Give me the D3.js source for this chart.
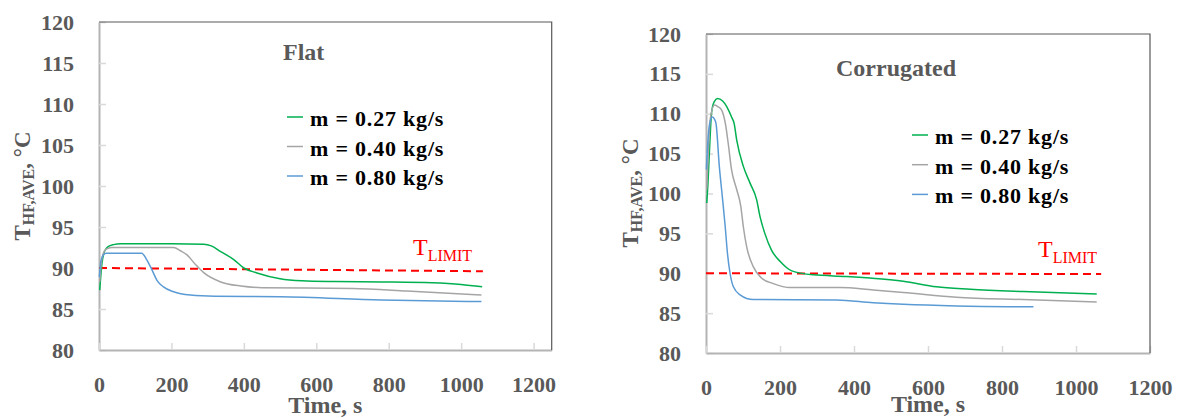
<!DOCTYPE html>
<meta charset="utf-8">
<script src="https://d3js.org/d3.v7.min.js"></script>
<body style="margin:0; background:#fff">
<div id="chart"></div>
<script>

// ---- data: [time s, temperature °C] ----
var flat027 = [[2,87.3],[8,90.5],[15,92.0],[25,92.6],[40,92.85],[60,92.95],[200,92.95],[289,92.9],[310,92.7],[336,92.0],[373,91.0],[400,90.0],[436,89.4],[500,88.7],[560,88.45],[650,88.35],[780,88.3],[920,88.2],[1000,88.0],[1058,87.7]];
var flat040 = [[2,88.3],[6,90.5],[12,91.8],[20,92.3],[35,92.5],[206,92.5],[225,92.1],[243,91.6],[267,90.4],[290,89.4],[336,88.3],[392,87.8],[450,87.6],[700,87.5],[850,87.2],[1056,86.7]];
var flat080 = [[1,88.9],[5,90.8],[12,91.6],[20,91.8],[118,91.8],[132,91.0],[146,89.8],[160,88.5],[178,87.7],[206,87.1],[252,86.7],[320,86.55],[500,86.5],[780,86.1],[1056,85.9]];
var flatLimit = [[0,90.0],[1060,89.6]];

var corr027 = [[2,98.8],[5,101],[10,106],[15,110.1],[22,111.5],[31,111.9],[45,111.6],[56,110.9],[70,109.5],[76,108.8],[83,106.7],[101,103.4],[119,101.3],[137,99.2],[146,97.1],[159,95.0],[177,92.9],[200,91.5],[232,90.3],[290,89.8],[380,89.6],[443,89.4],[533,89.0],[623,88.3],[714,88.0],[857,87.7],[1056,87.4]];
var corr040 = [[2,100.5],[6,105],[12,109.5],[23,111.1],[32,110.9],[42,110.5],[53,108.6],[60,106.3],[69,103.0],[83,100.5],[94,98.4],[101,95.8],[110,93.3],[128,90.8],[150,89.4],[182,88.7],[227,88.2],[362,88.2],[452,87.9],[533,87.6],[677,87.0],[857,86.7],[1056,86.4]];
var corr080 = [[1,103],[5,106.5],[10,108.8],[17,109.6],[22,109.4],[27,108.8],[36,103.4],[45,99.2],[52,95.8],[58,92.5],[65,90.0],[74,88.3],[92,87.3],[128,86.7],[353,86.65],[452,86.3],[533,86.1],[677,85.9],[885,85.8]];
var corrLimit = [[0,90.0],[1068,89.9]];

var seriesNames = ["m = 0.27 kg/s", "m = 0.40 kg/s", "m = 0.80 kg/s"];
var xTicks = [0, 200, 400, 600, 800, 1000, 1200];
var yTicks = [80, 85, 90, 95, 100, 105, 110, 115, 120];

var colors = ["#00b050", "#a5a5a5", "#5b9bd5"];
var serif = "'Liberation Serif', 'Times New Roman', serif";

var svg = d3.select("#chart").append("svg")
    .attr("width", 1179)
    .attr("height", 418);

var panels = [
    { title: "Flat", series: [flat027, flat040, flat080], limit: flatLimit, xMax: 1250,
      left: 99, right: 551.7, top: 22, bottom: 350,
      titleX: 283, titleY: 60, legX: 287, legY: 117, legStep: 29.5,
      limX: 413, limY: 255, yTitleX: 30, yTitleY: 186, xTitleY: 413 },
    { title: "Corrugated", series: [corr027, corr040, corr080], limit: corrLimit, xMax: 1200,
      left: 706, right: 1150, top: 34, bottom: 353,
      titleX: 836, titleY: 76, legX: 912, legY: 135, legStep: 29.7,
      limX: 1038, limY: 257, yTitleX: 638, yTitleY: 193, xTitleY: 412 }
];

panels.forEach(drawPanel);

function drawPanel(p) {
    var x = d3.scaleLinear().domain([0, p.xMax]).range([p.left, p.right]);
    var y = d3.scaleLinear().domain([80, 120]).range([p.bottom, p.top]);

    // axes (ticks point inward)
    var ya = svg.append("g")
        .attr("transform", "translate(" + p.left + ",0)")
        .call(d3.axisLeft(y).tickValues(yTicks).tickFormat(d3.format("d"))
            .tickSizeInner(-7).tickSizeOuter(0).tickPadding(25));
    var xa = svg.append("g")
        .attr("transform", "translate(0," + p.bottom + ")")
        .call(d3.axisBottom(x).tickValues(xTicks).tickFormat(d3.format("d"))
            .tickSizeInner(-7).tickSizeOuter(0).tickPadding(26));

    [ya, xa].forEach(function (a) {
        a.select(".domain").attr("stroke", "#b4b4b4").attr("stroke-width", 2);
        a.selectAll(".tick line").attr("stroke", "#d9d9d9").attr("stroke-width", 1.5);
        a.selectAll(".tick text")
            .style("font-family", serif)
            .style("font-weight", "bold")
            .style("font-size", "22px")
            .attr("fill", "#595959");
    });

    // top and right frame
    svg.append("path")
        .attr("d", "M" + p.left + "," + p.top + "H" + p.right + "V" + p.bottom)
        .attr("fill", "none")
        .attr("stroke", "#595959")
        .attr("stroke-width", 1.2);

    var line = d3.line()
        .x(function (d) { return x(d[0]); })
        .y(function (d) { return y(d[1]); })
        .curve(d3.curveMonotoneX);

    // limit line
    svg.append("path")
        .attr("d", line(p.limit))
        .attr("fill", "none")
        .attr("stroke", "#ff0000")
        .attr("stroke-width", 2)
        .attr("stroke-dasharray", "8,5");

    svg.selectAll(null)
        .data(p.series)
        .enter()
        .append("path")
        .attr("d", function (d) { return line(d); })
        .attr("fill", "none")
        .attr("stroke", function (d, i) { return colors[i]; })
        .attr("stroke-width", 1.5);

    // legend
    seriesNames.forEach(function (name, i) {
        var ly = p.legY + i * p.legStep;
        svg.append("line")
            .attr("x1", p.legX).attr("x2", p.legX + 16)
            .attr("y1", ly).attr("y2", ly)
            .attr("stroke", colors[i])
            .attr("stroke-width", 1.5);
        svg.append("text")
            .attr("x", p.legX + 23)
            .attr("y", ly + 9)
            .text(name)
            .style("font-family", serif)
            .style("font-weight", "bold")
            .style("font-size", "22px")
            .style("letter-spacing", "0.8px")
            .attr("fill", "#000");
    });

    // panel title
    svg.append("text")
        .attr("x", p.titleX)
        .attr("y", p.titleY)
        .text(p.title)
        .style("font-family", serif)
        .style("font-weight", "bold")
        .style("font-size", "24px")
        .attr("fill", "#595959");

    // T LIMIT label
    var lim = svg.append("text")
        .attr("x", p.limX)
        .attr("y", p.limY)
        .style("font-family", serif)
        .attr("fill", "#ff0000");
    lim.append("tspan").text("T").style("font-size", "24px");
    lim.append("tspan").text("LIMIT").style("font-size", "16px").attr("dy", 6);

    // y axis title
    var yt = svg.append("text")
        .attr("transform", "translate(" + p.yTitleX + "," + p.yTitleY + ") rotate(-90)")
        .attr("text-anchor", "middle")
        .style("font-family", serif)
        .style("font-weight", "bold")
        .attr("fill", "#595959");
    yt.append("tspan").text("T").style("font-size", "23px");
    yt.append("tspan").text("HF,AVE").style("font-size", "16px").attr("dy", 4);
    yt.append("tspan").text(", \u00B0C").style("font-size", "23px").attr("dy", -4);

    // x axis title
    svg.append("text")
        .attr("x", (p.left + p.right) / 2)
        .attr("y", p.xTitleY)
        .attr("text-anchor", "middle")
        .text("Time, s")
        .style("font-family", serif)
        .style("font-weight", "bold")
        .style("font-size", "24px")
        .attr("fill", "#595959");
}
</script>
</body>
